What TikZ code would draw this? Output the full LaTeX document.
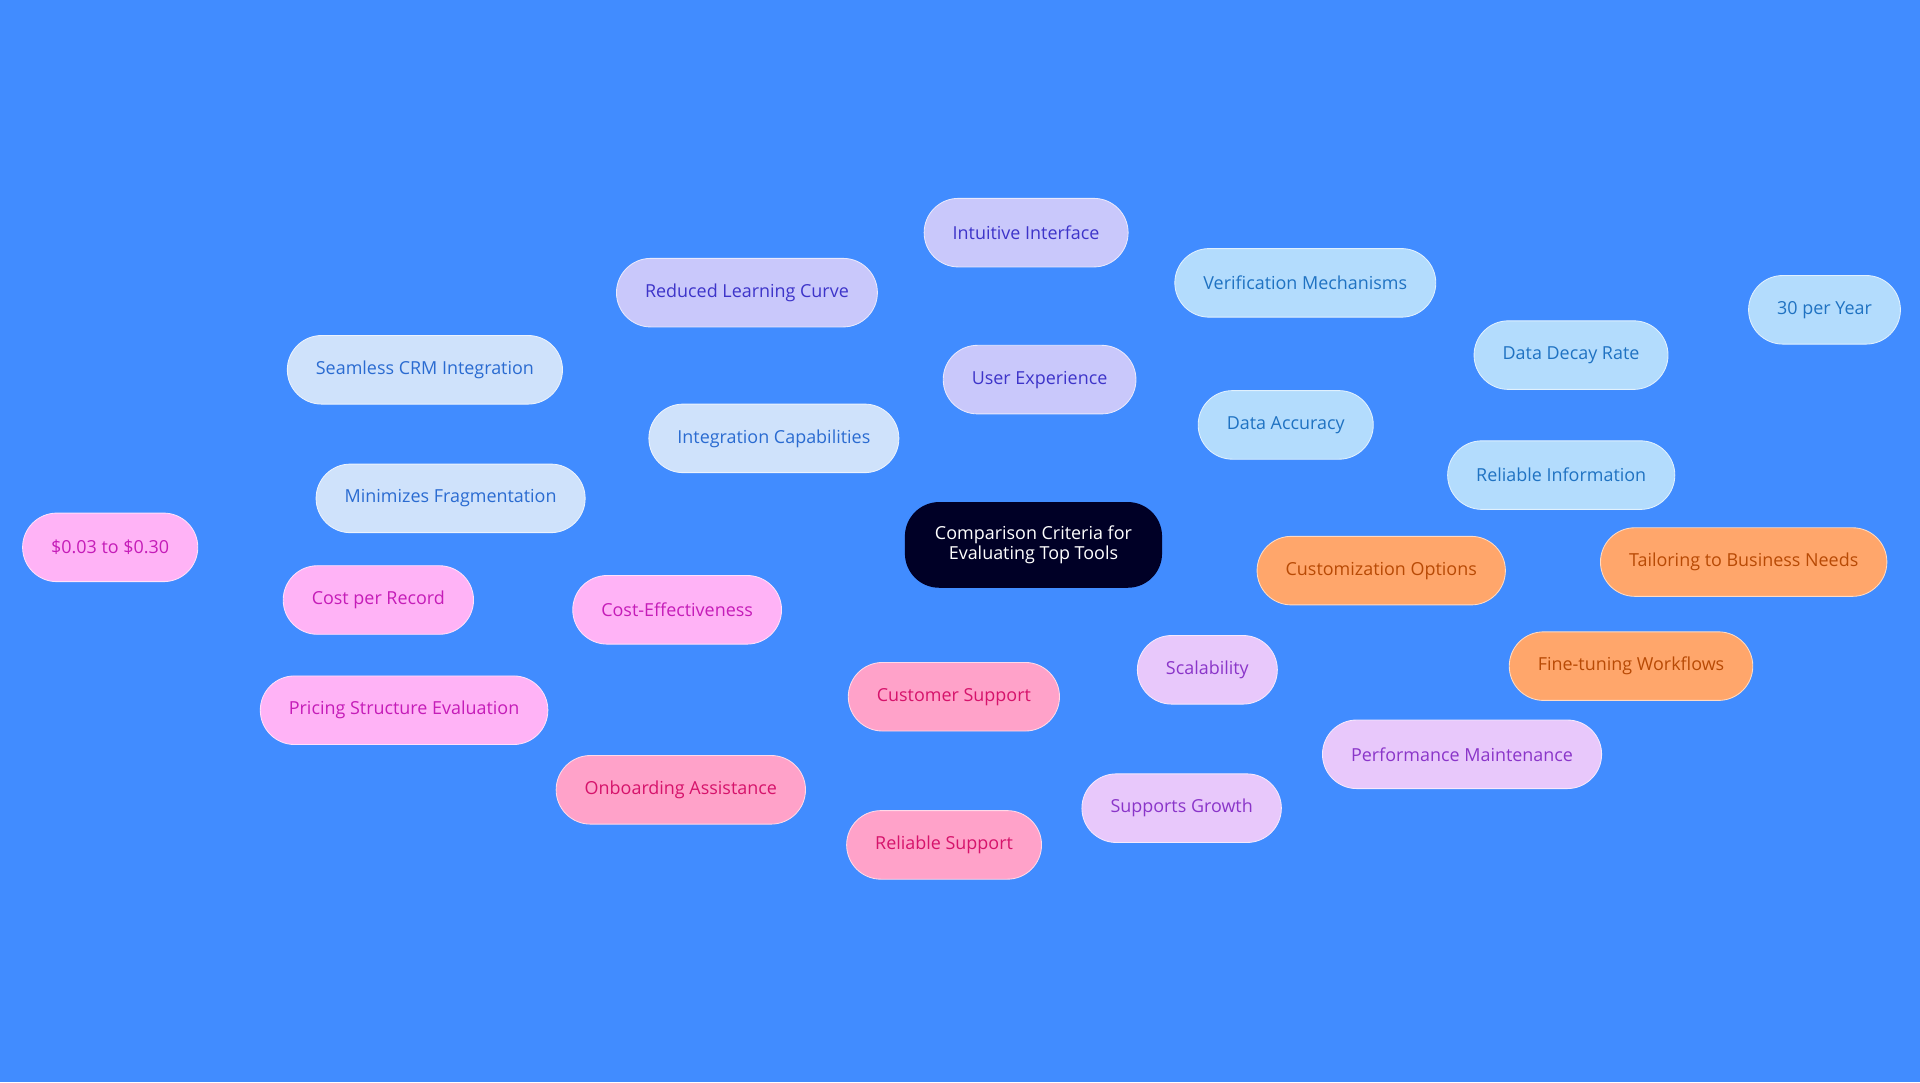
\documentclass[tikz,border=0pt]{standalone}
\usepackage{fontspec}
\setmainfont{Open Sans}
\usetikzlibrary{backgrounds}

\definecolor{bgblue}{HTML}{418CFF}
\definecolor{uxfill}{HTML}{C9C8FB}\definecolor{uxtext}{HTML}{3D34C9}\definecolor{uxline}{HTML}{A9A6F5}
\definecolor{icfill}{HTML}{CFE2FB}\definecolor{ictext}{HTML}{2A6BD1}\definecolor{icline}{HTML}{B4D0F5}
\definecolor{dafill}{HTML}{B3DCFD}\definecolor{datext}{HTML}{1F72C2}\definecolor{daline}{HTML}{8FC8F5}
\definecolor{cofill}{HTML}{FFA66B}\definecolor{cotext}{HTML}{B84A05}\definecolor{coline}{HTML}{F5924F}
\definecolor{scfill}{HTML}{E8C8FB}\definecolor{sctext}{HTML}{8A35C9}\definecolor{scline}{HTML}{D6A8F5}
\definecolor{csfill}{HTML}{FFA2C9}\definecolor{cstext}{HTML}{D6136B}\definecolor{csline}{HTML}{F58AB8}
\definecolor{cefill}{HTML}{FFB3F6}\definecolor{cetext}{HTML}{C51CB8}\definecolor{celine}{HTML}{F59AEA}

\begin{document}
\begin{tikzpicture}[x=0.03cm,y=-0.03cm,
  every node/.style={font=\fontsize{12.5}{14}\selectfont},
  topic/.style={rounded corners=0.84cm, minimum height=1.68cm, inner xsep=0.7cm, draw=white!60!#1fill, line width=0.6pt, fill=#1fill, text=#1text},
  link/.style={#1line, line width=1.2pt}]
\fill[bgblue] (0,0) rectangle (1568,884);

\node[fill=black!85!blue, text=white, rounded corners=0.84cm, minimum height=2.1cm, minimum width=6.3cm, align=center] (root) at (844,445) {Comparison Criteria for\\Evaluating Top Tools};

\node[topic=ux] (ux) at (849,310) {User Experience};
\node[topic=ux] (intuitive) at (838,190) {Intuitive Interface};
\node[topic=ux] (learning) at (610,239) {Reduced Learning Curve};

\node[topic=ic] (integration) at (632,358) {Integration Capabilities};
\node[topic=ic] (crm) at (347,302) {Seamless CRM Integration};
\node[topic=ic] (fragment) at (368,407) {Minimizes Fragmentation};

\node[topic=da] (accuracy) at (1050,347) {Data Accuracy};
\node[topic=da] (verify) at (1066,231) {Verification Mechanisms};
\node[topic=da] (decay) at (1283,290) {Data Decay Rate};
\node[topic=da] (peryear) at (1490,253) {30 per Year};
\node[topic=da] (reliableinfo) at (1275,388) {Reliable Information};

\node[topic=co] (custom) at (1128,466) {Customization Options};
\node[topic=co] (tailor) at (1424,459) {Tailoring to Business Needs};
\node[topic=co] (finetune) at (1332,544) {Fine-tuning Workflows};

\node[topic=sc] (scale) at (986,547) {Scalability};
\node[topic=sc] (perf) at (1194,616) {Performance Maintenance};
\node[topic=sc] (growth) at (965,660) {Supports Growth};

\node[topic=cs] (support) at (779,569) {Customer Support};
\node[topic=cs] (onboard) at (556,645) {Onboarding Assistance};
\node[topic=cs] (reliable) at (771,690) {Reliable Support};

\node[topic=ce] (cost) at (553,498) {Cost-Effectiveness};
\node[topic=ce] (record) at (309,490) {Cost per Record};
\node[topic=ce] (range) at (90,447) {\$0.03 to \$0.30};
\node[topic=ce] (pricing) at (330,580) {Pricing Structure Evaluation};

\begin{scope}[on background layer]
\draw[link=ux] (root) -- (ux) (ux) -- (intuitive) (ux) -- (learning);
\draw[link=ic] (root) -- (integration) (integration) -- (crm) (integration) -- (fragment);
\draw[link=da] (root) -- (accuracy) (accuracy) -- (verify) (accuracy) -- (decay)
  (decay) -- (peryear) (accuracy) -- (reliableinfo);
\draw[link=co] (root) -- (custom) (custom) -- (tailor) (custom) -- (finetune);
\draw[link=sc] (root) -- (scale) (scale) -- (perf) (scale) -- (growth);
\draw[link=cs] (root) -- (support) (support) -- (onboard) (support) -- (reliable);
\draw[link=ce] (root) -- (cost) (cost) -- (record) (record) -- (range) (cost) -- (pricing);
\end{scope}
\end{tikzpicture}
\end{document}
